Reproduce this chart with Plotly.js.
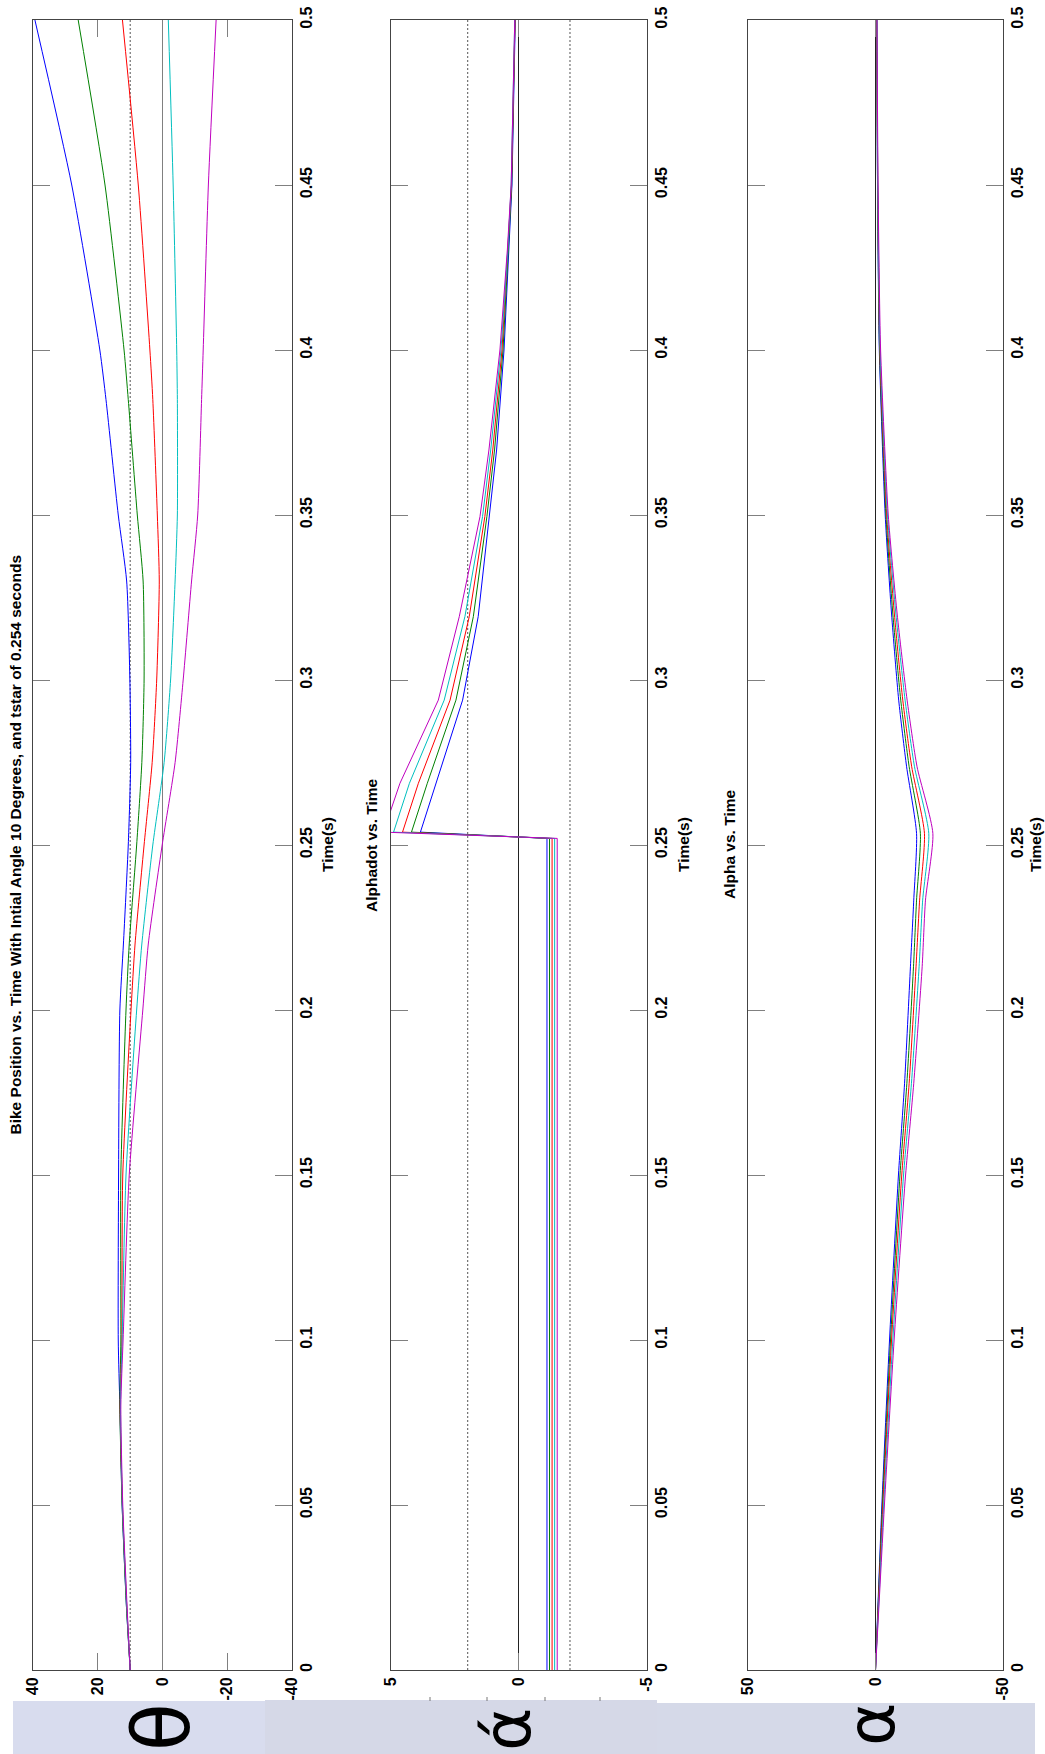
<!DOCTYPE html>
<html>
<head>
<meta charset="utf-8">
<script src="https://cdn.plot.ly/plotly-3.0.1.min.js"></script>
<style>html,body{margin:0;padding:0;background:#fff;}#chart{width:1045px;height:1754px;}</style>
</head>
<body>
<div id="chart"></div>
<script>
// ---------- data ----------
const seriesColors = ['#0000ff', '#008000', '#ff0000', '#00bfbf', '#bf00bf'];

const timeTicks = [0, 0.05, 0.1, 0.15, 0.2, 0.25, 0.3, 0.35, 0.4, 0.45, 0.5];
const timeTickText = ['0', '0.05', '0.1', '0.15', '0.2', '0.25', '0.3', '0.35', '0.4', '0.45', '0.5'];

const thetaTicks = [40, 20, 0, -20, -40];
const thetaTickText = ['40', '20', '0', '-20', '-40'];
const alphadotTicks = [5, 0, -5];
const alphadotTickText = ['5', '0', '-5'];
const alphaTicks = [50, 0, -50];
const alphaTickText = ['50', '0', '-50'];

const tTheta = [0, 0.02, 0.05, 0.08, 0.1, 0.15, 0.2, 0.22, 0.25, 0.275, 0.3, 0.33, 0.35, 0.385, 0.4, 0.45, 0.5];
const thetaBlue    = [10, 11.2, 12.5, 13.2, 13.7, 13.6, 13.2, 12.1, 10.6, 9.85, 10.1, 11.1, 13.7, 17.5, 19.4, 28.1, 39.5];
const thetaGreen   = [10, 11.2, 12.5, 13.2, 12.9, 12.9, 11.3, 10.3, 8.0, 6.4, 5.7, 6.0, 7.8, 10.6, 11.9, 17.8, 26.1];
const thetaRed     = [10, 11.1, 12.4, 13.1, 12.6, 12.3, 9.75, 8.5, 5.7, 3.2, 1.8, 1.0, 1.6, 3.0, 3.9, 7.5, 12.4];
const thetaCyan    = [10, 11.1, 12.4, 13.0, 12.5, 11.3, 8.0, 6.4, 3.0, -0.5, -2.5, -3.9, -4.6, -4.6, -4.4, -3.3, -1.8];
const thetaMagenta = [10, 11.0, 12.3, 12.9, 12.2, 10.3, 6.1, 4.4, 0.1, -3.9, -6.4, -9.0, -10.9, -12.1, -12.6, -14.2, -16.6];
const thetaReference = [10];

const tAlphadot = [0, 0.252, 0.2539, 0.2687, 0.2939, 0.3192, 0.3495, 0.3697, 0.4, 0.4303, 0.45, 0.5];
const alphadotBlue    = [-1.1, -1.1, 3.85, 3.24, 2.20, 1.59, 1.16, 0.87, 0.58, 0.38, 0.27, 0.14];
const alphadotGreen   = [-1.2, -1.2, 4.2, 3.58, 2.46, 1.78, 1.25, 0.95, 0.62, 0.40, 0.28, 0.15];
const alphadotRed     = [-1.3, -1.3, 4.55, 3.93, 2.69, 1.94, 1.33, 1.02, 0.66, 0.42, 0.29, 0.15];
const alphadotCyan    = [-1.4, -1.4, 4.9, 4.28, 2.92, 2.11, 1.42, 1.10, 0.70, 0.43, 0.30, 0.16];
const alphadotMagenta = [-1.5, -1.5, 5.3, 4.65, 3.15, 2.33, 1.52, 1.17, 0.74, 0.45, 0.30, 0.16];
const alphadotReference = [2, -2];

const tAlpha = [0, 0.05, 0.1, 0.15, 0.1778, 0.2131, 0.2333, 0.2535, 0.2737, 0.2939, 0.32, 0.35, 0.4, 0.45, 0.5];
const alphaBlue    = [0, -2.5, -5.5, -9.0, -11.4, -13.7, -15.0, -16.1, -12.2, -9.1, -6.3, -3.8, -1.5, -0.8, -0.5];
const alphaGreen   = [0, -2.7, -5.9, -9.6, -12.3, -14.9, -16.1, -17.6, -13.2, -9.9, -6.8, -4.1, -1.6, -0.8, -0.5];
const alphaRed     = [0, -2.9, -6.3, -10.3, -13.2, -15.9, -17.3, -19.2, -14.2, -10.7, -7.4, -4.4, -1.7, -0.9, -0.5];
const alphaCyan    = [0, -3.2, -6.8, -11.0, -14.1, -17.1, -18.5, -20.9, -15.3, -11.6, -8.0, -4.7, -1.8, -0.9, -0.6];
const alphaMagenta = [0, -3.5, -7.3, -11.8, -15.0, -18.3, -19.6, -22.5, -16.3, -12.4, -8.5, -5.0, -2.0, -1.0, -0.6];

const panelTitles = ['Bike Position vs. Time With Intial Angle 10 Degrees, and tstar of 0.254 seconds', 'Alphadot vs. Time', 'Alpha vs. Time'];
const timeLabel = 'Time(s)';
const symbolLabels = ['\u03B8', '\u03AC', '\u03B1'];

// ---------- layout helpers ----------
const W = 1045, H = 1754;
const px = v => v / W;
const py = v => 1 - v / H;

const tickFont = {family: 'Liberation Sans, Arial, sans-serif', size: 16, color: '#000', weight: 'bold'};
const titleFont = {family: 'Liberation Sans, Arial, sans-serif', size: 15.5, color: '#000', weight: 'bold'};

const panels = [
  {x0: 33.3, x1: 291.7, range: [40, -40], tv: thetaTicks, tt: thetaTickText, zc: '#808080', shape: 'spline',
   t: tTheta, ys: [thetaBlue, thetaGreen, thetaRed, thetaCyan, thetaMagenta], refs: thetaReference},
  {x0: 391, x1: 646.7, range: [5, -5], tv: alphadotTicks, tt: alphadotTickText, zc: '#222', shape: 'linear',
   t: tAlphadot, ys: [alphadotBlue, alphadotGreen, alphadotRed, alphadotCyan, alphadotMagenta], refs: alphadotReference},
  {x0: 748, x1: 1003, range: [50, -50], tv: alphaTicks, tt: alphaTickText, zc: '#222', shape: 'spline',
   t: tAlpha, ys: [alphaBlue, alphaGreen, alphaRed, alphaCyan, alphaMagenta], refs: []}
];

const yTop = 20, yBot = 1670;
const traces = [];
const layout = {
  width: W, height: H,
  margin: {l: 0, r: 0, t: 0, b: 0},
  paper_bgcolor: '#fff', plot_bgcolor: '#fff',
  showlegend: false, hovermode: false,
  shapes: [], annotations: []
};

panels.forEach((p, i) => {
  const n = i === 0 ? '' : String(i + 1);
  const xa = 'xaxis' + n, ya = 'yaxis' + n;
  const xr = 'x' + n, yr = 'y' + n;
  layout[xa] = {
    domain: [px(p.x0), px(p.x1)], anchor: yr,
    range: p.range, tickvals: p.tv, ticktext: p.tt, tickangle: -90,
    ticks: 'inside', ticklen: 17, tickcolor: '#808080', tickwidth: 1,
    showline: true, linecolor: '#444', linewidth: 1, mirror: 'allticks',
    showgrid: false, zeroline: true, zerolinecolor: p.zc, zerolinewidth: 1,
    tickfont: tickFont, fixedrange: true
  };
  layout[ya] = {
    domain: [py(yBot), py(yTop)], anchor: xr, side: 'right',
    range: [0, 0.5], tickvals: timeTicks, ticktext: timeTickText, tickangle: -90,
    ticks: 'inside', ticklen: 17, tickcolor: '#808080', tickwidth: 1,
    showline: true, linecolor: '#444', linewidth: 1, mirror: 'allticks',
    showgrid: false, zeroline: false, tickfont: tickFont, fixedrange: true
  };
  p.refs.forEach(r => {
    layout.shapes.push({type: 'line', xref: xr, yref: 'paper', x0: r, x1: r,
      y0: py(yBot), y1: py(yTop), line: {color: '#555', width: 1, dash: '2px,2px'}, layer: 'below'});
  });
  p.ys.forEach((ys, k) => {
    traces.push({type: 'scatter', mode: 'lines', x: ys, y: p.t, xaxis: xr, yaxis: yr,
      line: {color: seriesColors[k], width: 1, shape: p.shape, smoothing: 0.6}});
  });
});

// titles
const titleX = [14.5, 371, 729];
titleX.forEach((x, i) => {
  layout.annotations.push({xref: 'paper', yref: 'paper', x: px(x), y: py(845), text: panelTitles[i],
    textangle: -90, showarrow: false, xanchor: 'center', yanchor: 'middle', font: titleFont});
});
const timeLabelX = [327, 683, 1035];
timeLabelX.forEach(x => {
  layout.annotations.push({xref: 'paper', yref: 'paper', x: px(x), y: py(845), text: timeLabel,
    textangle: -90, showarrow: false, xanchor: 'center', yanchor: 'middle', font: titleFont});
});

// bottom bands with symbols
const bands = [
  {x0: 13, x1: 265, top: 1701, color: '#d8dcee'},
  {x0: 265, x1: 657, top: 1700, color: '#d5d8e7'},
  {x0: 657, x1: 1035, top: 1703, color: '#d5d9e8'}
];
bands.forEach(b => {
  layout.shapes.push({type: 'rect', xref: 'paper', yref: 'paper', x0: px(b.x0), x1: px(b.x1),
    y0: 0, y1: py(b.top), fillcolor: b.color, line: {width: 0}, layer: 'below'});
});
[430, 487, 545, 600].forEach(x => {
  layout.shapes.push({type: 'line', xref: 'paper', yref: 'paper', x0: px(x), x1: px(x),
    y0: py(1701), y1: py(1697), line: {color: '#777', width: 1}});
});
const symbolPos = [[162, 1727], [507, 1729], [871, 1724]];
const symbolSize = [78, 66, 66];
symbolPos.forEach((s, i) => {
  layout.annotations.push({xref: 'paper', yref: 'paper', x: px(s[0]), y: py(s[1]), text: symbolLabels[i],
    textangle: -90, showarrow: false, xanchor: 'center', yanchor: 'middle',
    font: {family: 'DejaVu Sans, sans-serif', size: symbolSize[i], color: '#000'}});
});

Plotly.newPlot('chart', traces, layout, {staticPlot: true, displayModeBar: false});
</script>
</body>
</html>
